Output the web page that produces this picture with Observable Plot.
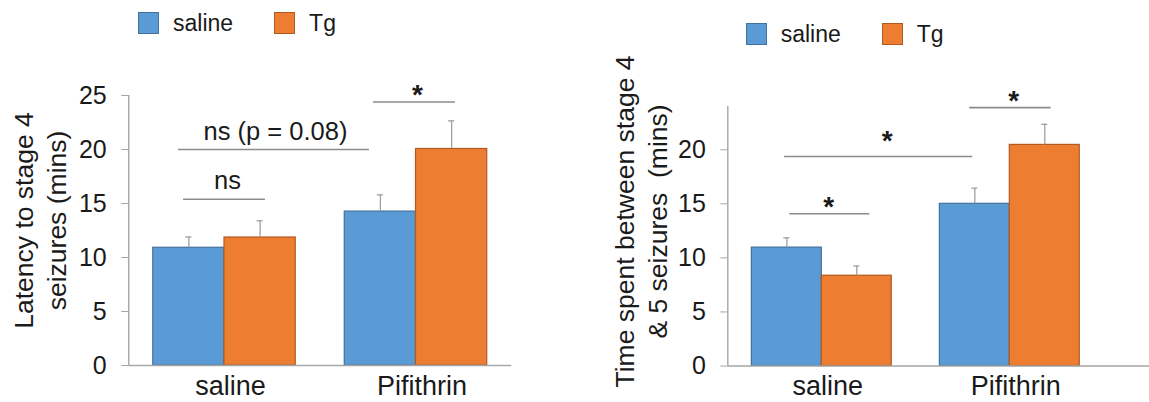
<!DOCTYPE html>
<html>
<head>
<meta charset="utf-8">
<script src="https://cdn.jsdelivr.net/npm/d3@7"></script>
<script src="https://cdn.jsdelivr.net/npm/@observablehq/plot@0.6"></script>
<style>
  body { margin: 0; background: #fff; font-family: "Liberation Sans", Arial, sans-serif; }
  #root { position: relative; width: 1149px; height: 402px; overflow: hidden; background: #fff; }
  .panel { position: absolute; top: 0; }
  .legend { position: absolute; display: flex; align-items: center; font-size: 23px; color: #1a1a1a; height: 22px; }
  .legend .sw { width: 21px; height: 22px; box-sizing: border-box; border: 1.3px solid; margin-right: 14px; }
  .legend .lab { margin-right: 41px; line-height: 22px; }
</style>
</head>
<body>
<div id="root"></div>
<script>
// ---------- data ----------
const groups = ["saline", "Pifithrin"];
const series = ["saline", "Tg"];

// Panel A: latency to stage 4 seizures (mins)
const latencySaline    = [10.9, 14.25];
const latencyTg        = [11.85, 20.05];
const latencySalineErr = [1.0, 1.55];
const latencyTgErr     = [1.55, 2.6];
const latencyLabel = "Latency to stage 4\nseizures (mins)";
const latencyTicks = [0, 5, 10, 15, 20, 25];
// significance brackets (x in group units, y in minutes)
const latencyBrackets = [
  {x1: -0.214, x2: 0.214, y: 15.4, label: "ns", labelX: 0.016, labelY: 16.3},
  {x1: -0.240, x2: 0.757, y: 20.0, label: "ns (p = 0.08)", labelX: 0.266, labelY: 20.9},
  {x1: 0.778, x2: 1.206, y: 24.4, label: "*", labelX: 1.008, labelY: 24.25}
];

// Panel B: time spent between stage 4 & 5 seizures (mins)
const durationSaline    = [10.95, 15.0];
const durationTg        = [8.35, 20.45];
const durationSalineErr = [0.9, 1.45];
const durationTgErr     = [0.9, 1.9];
const durationLabel = "Time spent between stage 4\n& 5 seizures \u00a0(mins)";
const durationTicks = [0, 5, 10, 15, 20];
const durationBrackets = [
  {x1: -0.170, x2: 0.255, y: 14.08, label: "*", labelX: 0.037, labelY: 13.9},
  {x1: -0.198, x2: 0.803, y: 19.37, label: "*", labelX: 0.348, labelY: 20.0},
  {x1: 0.787, x2: 1.220, y: 23.9, label: "*", labelX: 1.021, labelY: 23.64}
];

// ---------- styles ----------
const fills   = {saline: "#5B9BD5", Tg: "#ED7D31"};
const strokes = {saline: "#41719C", Tg: "#AE5A21"};
const axisColor = "#a6a6a6";
const textColor = "#1a1a1a";
const BAR_W = 0.372;

function panel(o) {
  const rows = groups.flatMap((g, gi) => series.map((s, si) => ({
    group: g, gi, series: s, si,
    value: o.values[s][gi], err: o.errors[s][gi]
  })));
  const x1 = d => d.gi + (d.si - 1) * BAR_W;
  const x2 = d => d.gi + d.si * BAR_W;
  const xc = d => d.gi + (d.si - 0.5) * BAR_W;
  const cap = o.cap;
  const stars = o.brackets.filter(d => d.label === "*");
  const words = o.brackets.filter(d => d.label !== "*");
  return Plot.plot({
    width: o.width, height: 402,
    marginLeft: o.marginLeft, marginRight: o.marginRight,
    marginTop: o.marginTop, marginBottom: o.marginBottom,
    x: {type: "linear", domain: o.xDomain},
    y: {domain: o.yDomain},
    style: {fontFamily: '"Liberation Sans", Arial, sans-serif', background: "transparent", overflow: "visible", color: textColor},
    marks: [
      ...series.map(s => Plot.rect(rows.filter(d => d.series === s), {
        x1, x2, y1: 0, y2: "value", fill: fills[s], stroke: strokes[s], strokeWidth: 1.2
      })),
      Plot.ruleX(rows, {x: xc, y1: "value", y2: d => d.value + d.err, stroke: "#a0a0a0", strokeWidth: 1.3}),
      Plot.ruleY(rows, {y: d => d.value + d.err, x1: d => xc(d) - cap, x2: d => xc(d) + cap, stroke: "#a0a0a0", strokeWidth: 1.3}),
      Plot.ruleY([0], {stroke: axisColor, strokeWidth: 1.4}),
      Plot.ruleX([o.xDomain[0]], {y1: 0, y2: o.yDomain[1], stroke: axisColor, strokeWidth: 1.4}),
      Plot.axisY({ticks: o.yTicks, tickSize: 7, tickPadding: 15, fontSize: 25, stroke: axisColor, fill: textColor, label: null}),
      Plot.axisX({ticks: [0, 1], tickFormat: i => groups[i], tickSize: 0, tickPadding: 10, fontSize: 27, dx: 6, fill: textColor, label: null}),
      Plot.ruleY(o.brackets, {y: "y", x1: "x1", x2: "x2", stroke: "#8c8c8c", strokeWidth: 1.6}),
      Plot.text(words, {x: "labelX", y: "labelY", text: "label", lineAnchor: "bottom", fontSize: 25.5, fill: textColor}),
      Plot.text(stars, {x: "labelX", y: "labelY", text: "label", lineAnchor: "bottom", fontSize: 28, fontWeight: "bold", fill: textColor}),
      Plot.text([o.yLabel], {frameAnchor: "left", rotate: -90, textAnchor: "middle", lineAnchor: "top",
        lineHeight: 1.25, fontSize: 26.5, fill: textColor, dx: o.labelDx, dy: o.labelDy})
    ]
  });
}

function legend(left, top) {
  const el = document.createElement("div");
  el.className = "legend";
  el.style.left = left + "px";
  el.style.top = top + "px";
  for (const s of series) {
    const sw = document.createElement("div");
    sw.className = "sw";
    sw.style.background = fills[s];
    sw.style.borderColor = strokes[s];
    const lab = document.createElement("div");
    lab.className = "lab";
    lab.textContent = s;
    el.append(sw, lab);
  }
  return el;
}

const root = document.getElementById("root");

const left = panel({
  width: 560, marginLeft: 128.25, marginRight: 48.75, marginTop: 95, marginBottom: 37,
  xDomain: [-0.5, 1.5], yDomain: [0, 25], yTicks: latencyTicks, cap: 0.016,
  values: {saline: latencySaline, Tg: latencyTg},
  errors: {saline: latencySalineErr, Tg: latencyTgErr},
  brackets: latencyBrackets, yLabel: latencyLabel, labelDx: -119, labelDy: -10
});
const leftWrap = document.createElement("div");
leftWrap.className = "panel";
leftWrap.style.left = "0px";
leftWrap.append(left);
root.append(leftWrap);

const right = panel({
  width: 574, marginLeft: 152.3, marginRight: 0, marginTop: 106, marginBottom: 36.5,
  xDomain: [-0.5, 1.743], yDomain: [0, 24], yTicks: durationTicks, cap: 0.016,
  values: {saline: durationSaline, Tg: durationTg},
  errors: {saline: durationSalineErr, Tg: durationTgErr},
  brackets: durationBrackets, yLabel: durationLabel, labelDx: -117.5, labelDy: -14.75
});
const rightWrap = document.createElement("div");
rightWrap.className = "panel";
rightWrap.style.left = "575px";
rightWrap.append(right);
root.append(rightWrap);

root.append(legend(138, 11.5));
root.append(legend(745.7, 22.5));
</script>
</body>
</html>
